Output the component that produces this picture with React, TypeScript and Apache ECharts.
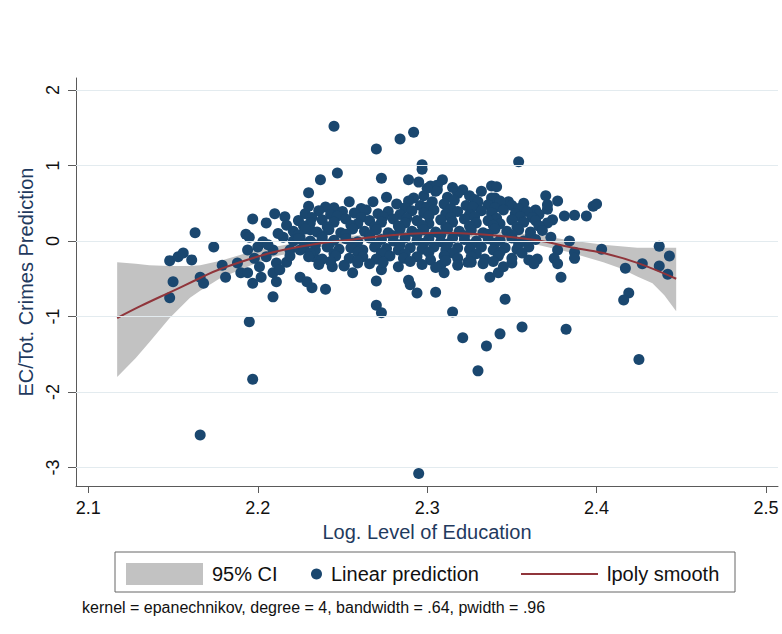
import { useEffect, useRef } from "react";
import * as echarts from "echarts";

const xTicks = [2.1, 2.2, 2.3, 2.4, 2.5];
const yTicks = [-3, -2, -1, 0, 1, 2];

const ciX = [2.117, 2.128, 2.136, 2.148, 2.160, 2.166, 2.178, 2.195, 2.209, 2.237, 2.280, 2.309, 2.331, 2.365, 2.384, 2.404, 2.414, 2.424, 2.433, 2.440, 2.447];
const ciHigh = [-0.28, -0.30, -0.32, -0.33, -0.33, -0.32, -0.26, -0.15, -0.08, 0.03, 0.12, 0.15, 0.15, 0.08, 0.01, -0.05, -0.07, -0.09, -0.09, -0.09, -0.09];
const ciLow = [-1.80, -1.55, -1.34, -1.02, -0.75, -0.66, -0.49, -0.33, -0.21, -0.08, 0.04, 0.07, 0.04, -0.05, -0.15, -0.28, -0.36, -0.47, -0.56, -0.72, -0.93];

const smoothX = [2.117, 2.131, 2.150, 2.166, 2.178, 2.209, 2.237, 2.260, 2.280, 2.309, 2.331, 2.365, 2.384, 2.404, 2.424, 2.447];
const smoothY = [-1.02, -0.86, -0.66, -0.49, -0.37, -0.15, -0.03, 0.03, 0.08, 0.11, 0.09, 0.01, -0.08, -0.16, -0.29, -0.50];

const outerLeft: [number, number][] = [
  [2.148, -0.26], [2.153, -0.21], [2.156, -0.16], [2.161, -0.25], [2.163, 0.11], [2.150, -0.54], [2.148, -0.75],
  [2.166, -0.48], [2.168, -0.56], [2.174, -0.08], [2.179, -0.32], [2.181, -0.48], [2.188, -0.29], [2.190, -0.42],
  [2.194, -0.42], [2.197, -0.56], [2.209, -0.74], [2.195, -1.07], [2.193, 0.09], [2.197, 0.29], [2.205, 0.24],
  [2.210, 0.36], [2.216, 0.32], [2.217, 0.21], [2.230, 0.64], [2.230, 0.46], [2.237, 0.81],
  [2.197, -1.83], [2.166, -2.57], [2.295, -3.08],
];

const clusterLeft: [number, number][] = [
  [2.195, 0.05], [2.200, -0.08], [2.203, -0.01], [2.209, -0.12], [2.205, -0.21], [2.211, -0.29], [2.201, -0.34],
  [2.209, -0.42], [2.211, -0.54], [2.202, -0.48], [2.217, -0.28], [2.215, 0.05], [2.212, 0.10], [2.198, -0.23],
  [2.194, -0.12], [2.206, -0.05], [2.213, -0.38], [2.219, -0.12], [2.225, -0.48], [2.229, -0.54], [2.232, -0.62],
  [2.225, 0.05], [2.231, 0.15], [2.233, -0.21], [2.225, -0.12], [2.234, -0.05], [2.219, -0.20], [2.221, 0.00],
];

const outerMiddle: [number, number][] = [
  [2.245, 1.52], [2.284, 1.35], [2.292, 1.44], [2.270, 1.22], [2.297, 1.01], [2.297, 0.95], [2.247, 0.90],
  [2.273, 0.83], [2.289, 0.81], [2.295, 0.78], [2.302, 0.73], [2.309, 0.81], [2.306, 0.68], [2.318, 0.65],
  [2.321, 0.68], [2.254, 0.52], [2.268, 0.52], [2.276, 0.58], [2.245, 0.44], [2.306, 0.74],
  [2.244, -0.34], [2.251, -0.32], [2.256, -0.42], [2.259, -0.29], [2.273, -0.38], [2.270, -0.53], [2.289, -0.52],
  [2.290, -0.58], [2.294, -0.69], [2.305, -0.68], [2.308, -0.32], [2.310, -0.42], [2.240, -0.64], [2.270, -0.85],
  [2.273, -0.95], [2.315, -0.94], [2.324, -0.28],
  [2.321, -1.28], [2.335, -1.39], [2.343, -1.23], [2.356, -1.14], [2.382, -1.17], [2.330, -1.72], [2.425, -1.57],
];

const outerRight: [number, number][] = [
  [2.354, 1.05], [2.338, 0.73], [2.341, 0.72], [2.340, 0.57], [2.370, 0.60], [2.377, 0.53], [2.348, 0.52],
  [2.371, 0.42], [2.374, 0.28], [2.381, 0.33], [2.387, 0.34], [2.394, 0.33], [2.398, 0.46], [2.400, 0.49],
  [2.364, 0.41], [2.367, 0.19], [2.373, 0.05], [2.384, 0.00], [2.377, -0.12], [2.375, -0.23], [2.377, -0.30],
  [2.379, -0.48], [2.387, -0.15], [2.387, -0.23], [2.403, -0.11], [2.437, -0.07], [2.417, -0.36], [2.427, -0.30],
  [2.437, -0.33], [2.442, -0.44], [2.443, -0.20], [2.419, -0.69], [2.416, -0.78], [2.346, -0.77], [2.337, -0.48],
  [2.342, -0.42], [2.350, -0.29], [2.360, -0.25], [2.365, -0.24], [2.363, -0.30], [2.371, 0.48],
];

const core: [number, number][] = [
  [2.298, 0.60], [2.305, 0.66], [2.312, 0.58], [2.318, 0.63], [2.325, 0.60], [2.332, 0.66], [2.338, 0.57],
  [2.300, 0.70], [2.315, 0.71], [2.328, 0.55], [2.292, 0.57],
  [2.282, 0.49], [2.289, 0.53], [2.296, 0.47], [2.303, 0.52], [2.310, 0.49], [2.316, 0.54], [2.323, 0.47],
  [2.330, 0.52], [2.336, 0.48], [2.343, 0.53], [2.350, 0.47], [2.357, 0.50],
  [2.240, 0.45], [2.261, 0.43], [2.287, 0.44], [2.300, 0.45], [2.314, 0.43], [2.327, 0.45], [2.340, 0.44], [2.354, 0.43],
  [2.228, 0.36], [2.236, 0.40], [2.243, 0.35], [2.250, 0.39], [2.257, 0.37], [2.264, 0.41], [2.271, 0.36],
  [2.277, 0.39], [2.284, 0.35], [2.291, 0.40], [2.298, 0.37], [2.304, 0.41], [2.311, 0.36], [2.318, 0.39],
  [2.325, 0.35], [2.332, 0.40], [2.338, 0.37], [2.345, 0.41], [2.352, 0.36], [2.359, 0.39], [2.366, 0.35],
  [2.232, 0.31], [2.247, 0.33], [2.261, 0.31], [2.274, 0.32], [2.288, 0.30], [2.301, 0.33], [2.314, 0.31],
  [2.328, 0.32], [2.341, 0.30], [2.355, 0.32], [2.362, 0.31],
  [2.224, 0.27], [2.231, 0.24], [2.238, 0.28], [2.245, 0.25], [2.252, 0.29], [2.259, 0.23], [2.266, 0.27],
  [2.273, 0.25], [2.280, 0.29], [2.287, 0.24], [2.294, 0.27], [2.301, 0.23], [2.308, 0.28], [2.315, 0.25],
  [2.322, 0.29], [2.329, 0.24], [2.336, 0.27], [2.343, 0.23], [2.350, 0.28], [2.357, 0.25], [2.364, 0.27], [2.371, 0.24],
  [2.227, 0.20], [2.241, 0.19], [2.255, 0.21], [2.269, 0.19], [2.283, 0.20], [2.297, 0.21], [2.311, 0.19],
  [2.325, 0.20], [2.339, 0.21], [2.353, 0.19], [2.366, 0.20],
  [2.221, 0.13], [2.228, 0.16], [2.235, 0.12], [2.242, 0.15], [2.249, 0.11], [2.256, 0.16], [2.263, 0.13],
  [2.270, 0.15], [2.277, 0.11], [2.284, 0.16], [2.291, 0.13], [2.298, 0.15], [2.305, 0.12], [2.312, 0.16],
  [2.319, 0.13], [2.326, 0.15], [2.333, 0.11], [2.340, 0.16], [2.347, 0.13], [2.354, 0.15], [2.361, 0.12], [2.368, 0.14],
  [2.224, 0.08], [2.238, 0.07], [2.252, 0.09], [2.266, 0.08], [2.280, 0.07], [2.294, 0.09], [2.308, 0.08],
  [2.322, 0.07], [2.336, 0.09], [2.350, 0.08], [2.361, 0.07],
  [2.224, 0.03], [2.231, 0.00], [2.238, 0.04], [2.245, 0.01], [2.252, 0.03], [2.259, -0.01], [2.266, 0.04],
  [2.273, 0.02], [2.280, 0.00], [2.287, 0.04], [2.294, 0.01], [2.301, 0.03], [2.308, -0.01], [2.315, 0.04],
  [2.322, 0.02], [2.329, 0.00], [2.336, 0.03], [2.343, 0.01], [2.350, 0.04], [2.357, 0.00], [2.364, 0.02],
  [2.228, -0.04], [2.242, -0.05], [2.256, -0.03], [2.270, -0.04], [2.284, -0.05], [2.298, -0.03], [2.312, -0.04],
  [2.326, -0.05], [2.340, -0.03], [2.354, -0.04],
  [2.227, -0.09], [2.234, -0.12], [2.241, -0.08], [2.248, -0.11], [2.255, -0.09], [2.262, -0.12], [2.269, -0.08],
  [2.276, -0.10], [2.283, -0.12], [2.290, -0.09], [2.297, -0.11], [2.304, -0.08], [2.311, -0.12], [2.318, -0.09],
  [2.325, -0.11], [2.332, -0.08], [2.339, -0.12], [2.346, -0.09], [2.353, -0.11], [2.360, -0.08],
  [2.231, -0.16], [2.245, -0.17], [2.259, -0.15], [2.273, -0.16], [2.287, -0.17], [2.301, -0.15], [2.315, -0.16],
  [2.329, -0.17], [2.343, -0.15], [2.356, -0.16],
  [2.230, -0.21], [2.238, -0.24], [2.246, -0.20], [2.254, -0.23], [2.262, -0.21], [2.270, -0.24], [2.278, -0.20],
  [2.286, -0.23], [2.294, -0.21], [2.302, -0.25], [2.310, -0.20], [2.318, -0.23], [2.326, -0.21], [2.334, -0.24],
  [2.342, -0.20], [2.350, -0.23],
  [2.243, -0.27], [2.259, -0.26], [2.274, -0.28], [2.290, -0.27], [2.311, -0.26], [2.326, -0.28], [2.339, -0.27],
  [2.236, -0.31], [2.251, -0.33], [2.266, -0.30], [2.283, -0.34], [2.297, -0.31], [2.305, -0.35], [2.318, -0.32],
  [2.333, -0.30], [2.345, -0.34],
];

const linearPrediction: [number, number][] = [...outerLeft, ...clusterLeft, ...outerMiddle, ...outerRight, ...core];

const FONT = '"Liberation Sans", Arial, Helvetica, sans-serif';
const NAVY = "#1a476f";
const CRANBERRY = "#90353b";
const CI_GRAY = "#c2c2c2";
const AXIS = "#5a5a5a";
const TITLE = "#1f3a5e";

export default function App() {
  const ref = useRef<HTMLDivElement>(null);
  useEffect(() => {
    if (!ref.current) return;
    const chart = echarts.init(ref.current, null, { renderer: "svg" });
    const legendText = { fontSize: 20, color: "#111", fontFamily: FONT, padding: [0, 0, 0, 4] };
    chart.setOption({
      animation: false,
      backgroundColor: "#ffffff",
      textStyle: { fontFamily: FONT },
      grid: { left: 76, right: 4, top: 78, bottom: 148, containLabel: false },
      xAxis: {
        type: "value",
        min: 2.0927,
        max: 2.5071,
        axisLine: { show: true, onZero: false, lineStyle: { color: AXIS, width: 1 } },
        axisTick: { show: true, customValues: xTicks, length: 7, lineStyle: { color: AXIS } },
        axisLabel: { customValues: xTicks, fontSize: 18, color: "#111", margin: 13, fontFamily: FONT },
        splitLine: { show: false },
        name: "Log. Level of Education",
        nameLocation: "middle",
        nameGap: 36,
        nameTextStyle: { fontSize: 20, color: TITLE, fontFamily: FONT },
      },
      yAxis: {
        type: "value",
        min: -3.245,
        max: 2.159,
        axisLine: { show: true, onZero: false, lineStyle: { color: AXIS, width: 1 } },
        axisTick: { show: true, customValues: yTicks, length: 8, lineStyle: { color: AXIS } },
        axisLabel: { customValues: yTicks, rotate: 90, fontSize: 18, color: "#111", margin: 14, fontFamily: FONT },
        splitLine: { show: false },
        name: "EC/Tot. Crimes Prediction",
        nameLocation: "middle",
        nameGap: 36,
        nameTextStyle: { fontSize: 20, color: TITLE, fontFamily: FONT },
      },
      legend: [
        {
          data: [{ name: "95% CI", icon: "rect", itemStyle: { color: CI_GRAY } }],
          left: 126, top: 563, padding: 0, itemWidth: 77, itemHeight: 22, selectedMode: false, textStyle: legendText,
        },
        {
          data: [{ name: "Linear prediction", icon: "circle", itemStyle: { color: NAVY } }],
          left: 311, top: 564, padding: 0, itemWidth: 11, itemHeight: 11, selectedMode: false, textStyle: legendText,
        },
        {
          data: [{ name: "lpoly smooth", icon: "rect", itemStyle: { color: CRANBERRY } }],
          left: 521, top: 564, padding: 0, itemWidth: 77, itemHeight: 2, selectedMode: false, textStyle: legendText,
        },
      ],
      graphic: [
        {
          type: "rect",
          shape: { x: 115, y: 552, width: 620, height: 40 },
          style: { fill: "none", stroke: "#666", lineWidth: 1 },
          silent: true,
        },
        {
          type: "text",
          x: 82,
          y: 607,
          style: {
            text: "kernel = epanechnikov, degree = 4, bandwidth = .64, pwidth = .96",
            fontSize: 16,
            fontFamily: FONT,
            fill: "#111",
            verticalAlign: "middle",
          },
          silent: true,
        },
      ],
      series: [
        {
          type: "line",
          name: "gridlines",
          data: [],
          z: 1,
          silent: true,
          markLine: {
            silent: true,
            symbol: ["none", "none"],
            label: { show: false },
            lineStyle: { color: "#e3ebef", width: 1, type: "solid" },
            data: yTicks.map((v) => ({ yAxis: v })),
          },
        },
        {
          type: "custom",
          name: "95% CI",
          z: 2,
          silent: true,
          itemStyle: { color: CI_GRAY },
          data: [[ciX[0], ciLow[0]]],
          renderItem: (_params: any, api: any) => {
            const pts: number[][] = [];
            for (let i = 0; i < ciX.length; i++) pts.push(api.coord([ciX[i], ciHigh[i]]));
            for (let i = ciX.length - 1; i >= 0; i--) pts.push(api.coord([ciX[i], ciLow[i]]));
            return { type: "polygon", shape: { points: pts }, style: { fill: CI_GRAY } };
          },
        },
        {
          type: "scatter",
          name: "Linear prediction",
          z: 3,
          symbolSize: 11,
          itemStyle: { color: NAVY, opacity: 1 },
          data: linearPrediction,
        },
        {
          type: "line",
          name: "lpoly smooth",
          z: 4,
          smooth: 0.4,
          symbol: "none",
          lineStyle: { color: CRANBERRY, width: 2 },
          itemStyle: { color: CRANBERRY },
          data: smoothX.map((x, i) => [x, smoothY[i]]),
        },
      ],
    });
    return () => chart.dispose();
  }, []);
  return (
    <div
      ref={ref}
      style={{ position: "fixed", left: 0, top: 0, width: 782, height: 634, background: "#fff" }}
    />
  );
}
